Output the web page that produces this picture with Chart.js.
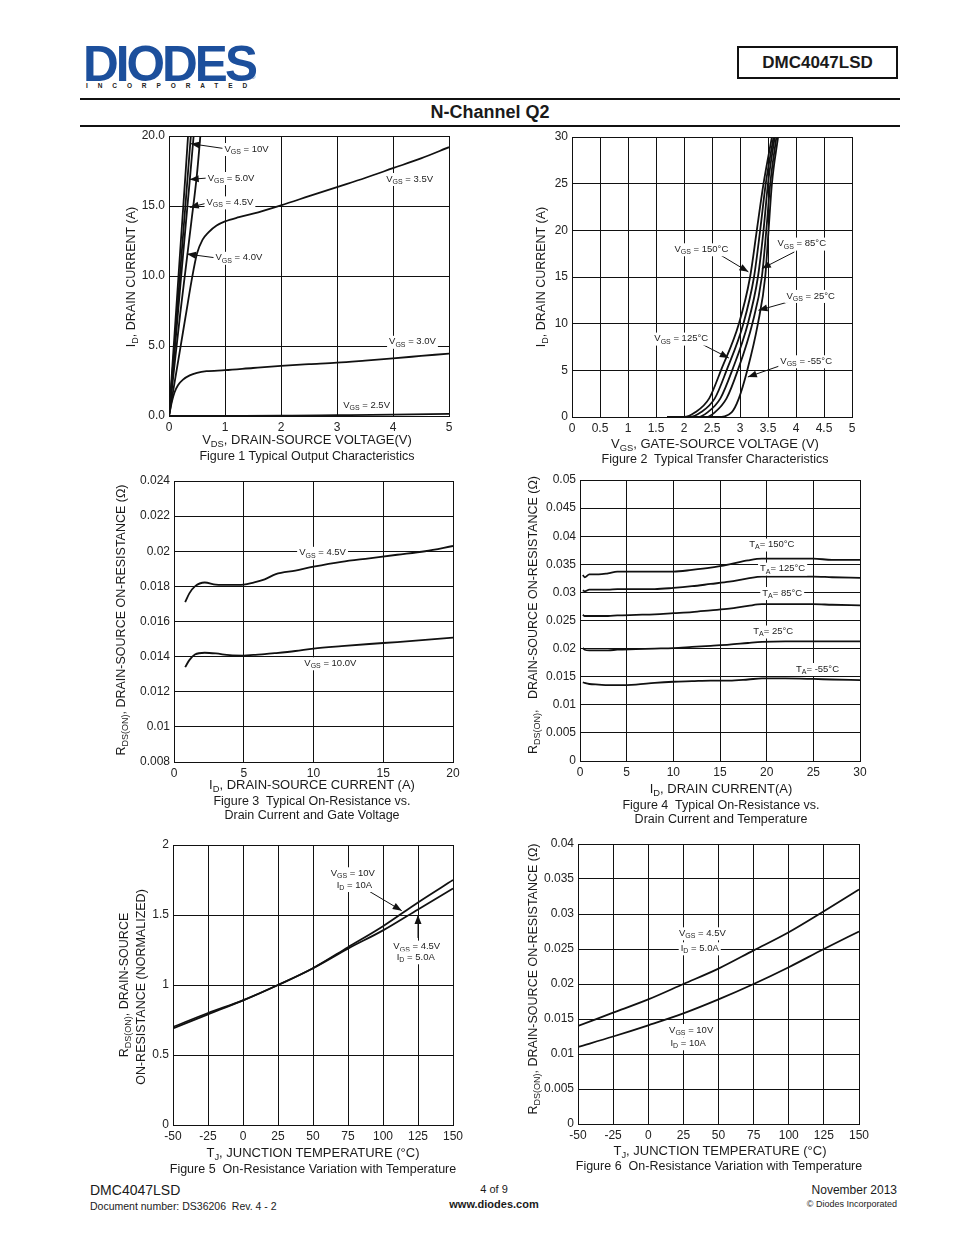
<!DOCTYPE html>
<html>
<head>
<meta charset="utf-8">
<script src="https://cdn.jsdelivr.net/npm/chart.js@4.4.1/dist/chart.umd.min.js"></script>
<style>
  body { margin: 0; background: #fff; font-family: "Liberation Sans", Arial, sans-serif; color: #1a1a1a; }
  #page { position: relative; width: 954px; height: 1235px; overflow: hidden; }
  .t { position: absolute; white-space: nowrap; transform: translate(-50%, -50%); font-size: 12.5px; }
  .yt { position: absolute; white-space: nowrap; transform: translate(-50%, -50%) rotate(-90deg); font-size: 12.5px; }
  sub { font-size: 0.72em; position: relative; top: 0.3em; vertical-align: baseline; line-height: 0; }
  canvas { position: absolute; }
  .rule { position: absolute; left: 80px; width: 820px; height: 2px; background: #111; }
</style>
</head>
<body>
<div id="page">
  <!-- header -->
  <div style="position:absolute;left:83px;top:35px;font-size:50px;font-weight:900;letter-spacing:-3px;color:#1c4f9c;transform:scaleX(0.99);transform-origin:left">DIODES</div>
  <div style="position:absolute;left:86px;top:82px;font-size:6.5px;font-weight:bold;letter-spacing:9.9px;color:#222">INCORPORATED</div>
  <div style="position:absolute;left:251px;top:74px;font-size:6px;color:#1c4f9c">®</div>
  <div style="position:absolute;left:737px;top:46px;width:157px;height:29px;border:2px solid #111;font-size:17px;font-weight:bold;text-align:center;line-height:30px">DMC4047LSD</div>
  <div class="rule" style="top:98px"></div>
  <div class="t" style="left:490px;top:112px;font-size:18px;font-weight:bold">N-Channel Q2</div>
  <div class="rule" style="top:125px"></div>

  <canvas id="c1"></canvas>
  <canvas id="c2"></canvas>
  <canvas id="c3"></canvas>
  <canvas id="c4"></canvas>
  <canvas id="c5"></canvas>
  <canvas id="c6"></canvas>

  <!-- figure 1 -->
  <div class="yt" style="left:131px;top:277px">I<sub>D</sub>, DRAIN CURRENT (A)</div>
  <div class="t" style="left:307px;top:439px;font-size:13px">V<sub>DS</sub>, DRAIN-SOURCE VOLTAGE(V)</div>
  <div class="t" style="left:307px;top:456px">Figure 1 Typical Output Characteristics</div>
  <!-- figure 2 -->
  <div class="yt" style="left:541px;top:277px">I<sub>D</sub>, DRAIN CURRENT (A)</div>
  <div class="t" style="left:715px;top:443px;font-size:13px">V<sub>GS</sub>, GATE-SOURCE VOLTAGE (V)</div>
  <div class="t" style="left:715px;top:459px">Figure 2&nbsp; Typical Transfer Characteristics</div>
  <!-- figure 3 -->
  <div class="yt" style="left:121px;top:620px">R<sub>DS(ON)</sub>, DRAIN-SOURCE ON-RESISTANCE (Ω)</div>
  <div class="t" style="left:312px;top:784px;font-size:13px">I<sub>D</sub>, DRAIN-SOURCE CURRENT (A)</div>
  <div class="t" style="left:312px;top:801px">Figure 3&nbsp; Typical On-Resistance vs.</div>
  <div class="t" style="left:312px;top:815px">Drain Current and Gate Voltage</div>
  <!-- figure 4 -->
  <div class="yt" style="left:533px;top:615px">R<sub>DS(ON)</sub>,&nbsp;&nbsp; DRAIN-SOURCE ON-RESISTANCE (Ω)</div>
  <div class="t" style="left:721px;top:788px;font-size:13px">I<sub>D</sub>, DRAIN CURRENT(A)</div>
  <div class="t" style="left:721px;top:805px">Figure 4&nbsp; Typical On-Resistance vs.</div>
  <div class="t" style="left:721px;top:819px">Drain Current and Temperature</div>
  <!-- figure 5 -->
  <div class="yt" style="left:124px;top:985px">R<sub>DS(ON)</sub>, DRAIN-SOURCE</div>
  <div class="yt" style="left:141px;top:987px">ON-RESISTANCE (NORMALIZED)</div>
  <div class="t" style="left:313px;top:1152px;font-size:13px">T<sub>J</sub>, JUNCTION TEMPERATURE (°C)</div>
  <div class="t" style="left:313px;top:1169px">Figure 5&nbsp; On-Resistance Variation with Temperature</div>
  <!-- figure 6 -->
  <div class="yt" style="left:533px;top:979px">R<sub>DS(ON)</sub>, DRAIN-SOURCE ON-RESISTANCE (Ω)</div>
  <div class="t" style="left:720px;top:1150px;font-size:13px">T<sub>J</sub>, JUNCTION TEMPERATURE (°C)</div>
  <div class="t" style="left:719px;top:1166px">Figure 6&nbsp; On-Resistance Variation with Temperature</div>

  <!-- footer -->
  <div style="position:absolute;left:90px;top:1182px;font-size:14px">DMC4047LSD</div>
  <div style="position:absolute;left:90px;top:1200px;font-size:10.5px">Document number: DS36206&nbsp; Rev. 4 - 2</div>
  <div class="t" style="left:494px;top:1189px;font-size:11px">4 of 9</div>
  <div class="t" style="left:494px;top:1204px;font-size:11px;font-weight:bold">www.diodes.com</div>
  <div style="position:absolute;right:57px;top:1183px;font-size:12px">November 2013</div>
  <div style="position:absolute;right:57px;top:1199px;font-size:9px">© Diodes Incorporated</div>
</div>

<script>
// ---------- Figure 1: output characteristics ----------
const fig1Vds10 = [0, 0.1, 0.2, 0.3, 0.34];
const fig1Id10 = [0, 5.9, 11.8, 17.6, 20];
const fig1Vds50 = [0, 0.1, 0.2, 0.3, 0.39];
const fig1Id50 = [0, 5.1, 10.3, 15.4, 20];
const fig1Vds45 = [0, 0.1, 0.2, 0.3, 0.37, 0.44];
const fig1Id45 = [0, 4.6, 9.2, 13.7, 16.8, 20];
const fig1Vds40 = [0, 0.1, 0.2, 0.3, 0.4, 0.5, 0.56];
const fig1Id40 = [0, 3.7, 7.3, 10.6, 13.9, 17.3, 20];
const fig1Vds35 = [0, 0.1, 0.2, 0.3, 0.4, 0.5, 0.6, 0.7, 0.85, 1, 1.25, 1.5, 2, 2.5, 3, 3.5, 4, 4.5, 5];
const fig1Id35 = [0, 2.4, 4.8, 7.2, 9.6, 11.6, 12.6, 13.1, 13.6, 13.9, 14.2, 14.45, 15.05, 15.7, 16.35, 17.0, 17.7, 18.4, 19.2];
const fig1Vds30 = [0, 0.05, 0.1, 0.16, 0.25, 0.37, 0.5, 0.67, 1, 1.5, 2, 2.5, 3, 3.5, 4, 4.5, 5];
const fig1Id30 = [0, 1.0, 1.7, 2.2, 2.6, 2.9, 3.08, 3.2, 3.27, 3.43, 3.58, 3.7, 3.81, 3.96, 4.12, 4.29, 4.46];
const fig1Vds25 = [0, 1, 2, 2.2, 3, 4, 5];
const fig1Id25 = [0, 0.01, 0.02, 0.03, 0.06, 0.1, 0.15];

// ---------- Figure 2: transfer characteristics ----------
const fig2Id = [0, 0, 0.5, 2, 5, 10, 15, 20, 25, 30];
const fig2V150 = [1.7, 2.0, 2.2, 2.45, 2.66, 2.98, 3.18, 3.3, 3.42, 3.57];
const fig2V125 = [1.7, 2.1, 2.3, 2.55, 2.76, 3.06, 3.25, 3.36, 3.46, 3.6];
const fig2V85 = [1.7, 2.25, 2.42, 2.65, 2.86, 3.14, 3.32, 3.42, 3.5, 3.62];
const fig2V25 = [1.7, 2.4, 2.55, 2.76, 2.96, 3.22, 3.39, 3.47, 3.54, 3.65];
const fig2Vm55 = [1.7, 2.6, 2.85, 2.98, 3.13, 3.32, 3.45, 3.51, 3.57, 3.68];

// ---------- Figure 3: RDS(on) vs ID and VGS ----------
const fig3Id = [0.8, 1.1, 1.5, 2.2, 3.0, 4.0, 5.0, 5.7, 6.5, 7.3, 8.7, 10, 12, 14, 16, 18, 20];
const fig3R45 = [0.0171, 0.0176, 0.0180, 0.01822, 0.0181, 0.01808, 0.0181, 0.01822, 0.0184, 0.0187, 0.0189, 0.01912, 0.0194, 0.0196, 0.0198, 0.0200, 0.0203];
const fig3R10 = [0.0134, 0.0138, 0.01412, 0.01422, 0.01418, 0.01408, 0.01406, 0.0141, 0.01414, 0.0142, 0.01432, 0.01446, 0.0146, 0.01472, 0.01483, 0.01495, 0.01508];

// ---------- Figure 4: RDS(on) vs ID and temperature ----------
const fig4Id = [0.3, 0.5, 1, 2, 3, 4, 6, 8, 10, 12, 14, 16, 18, 19.5, 22, 25, 27, 30];
const fig4R150 = [0.0331, 0.0327, 0.0332, 0.0332, 0.0334, 0.0337, 0.0337, 0.0337, 0.0337, 0.034, 0.0344, 0.035, 0.0357, 0.036, 0.036, 0.036, 0.0358, 0.0358];
const fig4R125 = [0.0304, 0.0302, 0.0305, 0.0305, 0.0305, 0.0306, 0.0306, 0.0306, 0.0308, 0.0311, 0.0315, 0.0319, 0.0325, 0.0328, 0.0328, 0.0328, 0.0327, 0.0326];
const fig4R85 = [0.026, 0.0258, 0.0258, 0.0258, 0.0258, 0.0259, 0.026, 0.0261, 0.0263, 0.0265, 0.0268, 0.0271, 0.0276, 0.0279, 0.0279, 0.0279, 0.0278, 0.0277];
const fig4R25 = [0.0201, 0.0198, 0.0197, 0.0197, 0.0197, 0.0198, 0.0199, 0.02, 0.0201, 0.0203, 0.0205, 0.0207, 0.021, 0.0212, 0.0213, 0.0213, 0.0213, 0.0213];
const fig4Rm55 = [0.014, 0.0139, 0.0137, 0.0136, 0.0135, 0.0135, 0.0136, 0.0139, 0.0141, 0.0142, 0.0143, 0.0143, 0.0145, 0.0147, 0.0147, 0.0146, 0.0145, 0.0144];

// ---------- Figure 5 / 6: temperature variation ----------
const tempC = [-50, -25, 0, 25, 50, 75, 100, 125, 150];
const fig5Norm10 = [0.70, 0.80, 0.89, 1.0, 1.12, 1.27, 1.42, 1.59, 1.75];
const fig5Norm45 = [0.69, 0.79, 0.89, 1.0, 1.12, 1.26, 1.39, 1.54, 1.69];
const fig6R45 = [0.0140, 0.0159, 0.0178, 0.0200, 0.0222, 0.0248, 0.0274, 0.0304, 0.0335];
const fig6R10 = [0.0110, 0.0125, 0.0141, 0.0158, 0.0178, 0.0200, 0.0224, 0.0250, 0.0275];

const FONT = '"Liberation Sans", Arial, sans-serif';
const PADL = 60, PADR = 24, PADT = 12, PADB = 24;

const zip = (xs, ys) => xs.map((v, i) => ({ x: v, y: ys[i] }));
const trim = (d) => (v) => String(+v.toFixed(d));

function curve(xs, ys) {
  return {
    data: zip(xs, ys),
    borderColor: "#111",
    borderWidth: 1.8,
    pointRadius: 0,
    fill: false,
    cubicInterpolationMode: "monotone",
  };
}

function axis(min, max, step, fmt, isX) {
  return {
    type: "linear",
    min, max,
    ticks: {
      stepSize: step, autoSkip: false, maxRotation: 0, padding: 4,
      color: "#222", font: { family: FONT, size: 12 }, callback: fmt,
    },
    grid: { color: "#111", lineWidth: 1, drawTicks: false },
    border: { color: "#111", width: 1 },
    afterFit: (s) => { if (isX) s.height = PADB; else s.width = PADL; },
  };
}

// text with V_{GS} style subscripts, left edge at px, vertical middle at py
function drawLabel(ctx, px, py, str) {
  const parts = str.split(/(_\{[^}]*\})/).filter(Boolean)
    .map((s) => s.startsWith("_{") ? { t: s.slice(2, -1), sub: true } : { t: s, sub: false });
  const big = "9.5px " + FONT, small = "7px " + FONT;
  let w = 0;
  parts.forEach((p) => { ctx.font = p.sub ? small : big; p.w = ctx.measureText(p.t).width; w += p.w; });
  ctx.fillStyle = "#fff";
  ctx.fillRect(px - 2, py - 6, w + 4, 13);
  ctx.fillStyle = "#222";
  ctx.textBaseline = "middle";
  let cx = px;
  parts.forEach((p) => {
    ctx.font = p.sub ? small : big;
    ctx.fillText(p.t, cx, p.sub ? py + 3 : py);
    cx += p.w;
  });
}

function drawArrow(ctx, x0, y0, x1, y1) {
  const a = Math.atan2(y1 - y0, x1 - x0);
  ctx.strokeStyle = "#111";
  ctx.lineWidth = 1;
  ctx.beginPath();
  ctx.moveTo(x0, y0);
  ctx.lineTo(x1, y1);
  ctx.stroke();
  ctx.fillStyle = "#111";
  ctx.beginPath();
  ctx.moveTo(x1, y1);
  ctx.lineTo(x1 - 9 * Math.cos(a) + 3.5 * Math.sin(a), y1 - 9 * Math.sin(a) - 3.5 * Math.cos(a));
  ctx.lineTo(x1 - 9 * Math.cos(a) - 3.5 * Math.sin(a), y1 - 9 * Math.sin(a) + 3.5 * Math.cos(a));
  ctx.closePath();
  ctx.fill();
}

const notesPlugin = {
  id: "notes",
  afterDatasetsDraw(chart, args, opts) {
    const { ctx, scales: { x, y } } = chart;
    const items = opts.items || [];
    ctx.save();
    items.forEach((n) => {
      if (n.tip) drawArrow(ctx, x.getPixelForValue(n.from[0]), y.getPixelForValue(n.from[1]),
        x.getPixelForValue(n.tip[0]), y.getPixelForValue(n.tip[1]));
    });
    items.forEach((n) => {
      if (n.text) drawLabel(ctx, x.getPixelForValue(n.at[0]), y.getPixelForValue(n.at[1]), n.text);
    });
    ctx.restore();
  },
};

function makeChart(id, box, datasets, xAx, yAx, notes) {
  const cv = document.getElementById(id);
  cv.width = box.w + PADL + PADR;
  cv.height = box.h + PADT + PADB;
  cv.style.left = (box.left - PADL) + "px";
  cv.style.top = (box.top - PADT) + "px";
  return new Chart(cv, {
    type: "line",
    data: { datasets },
    options: {
      responsive: false,
      animation: false,
      events: [],
      layout: { padding: { left: 0, right: PADR, top: PADT, bottom: 0 } },
      plugins: { legend: { display: false }, tooltip: { enabled: false }, notes: { items: notes } },
      scales: { x: xAx, y: yAx },
    },
    plugins: [notesPlugin],
  });
}

makeChart("c1", { left: 169, top: 136, w: 280, h: 280 },
  [curve(fig1Vds10, fig1Id10), curve(fig1Vds50, fig1Id50), curve(fig1Vds45, fig1Id45),
   curve(fig1Vds40, fig1Id40), curve(fig1Vds35, fig1Id35), curve(fig1Vds30, fig1Id30),
   curve(fig1Vds25, fig1Id25)],
  axis(0, 5, 1, trim(0), true), axis(0, 20, 5, (v) => v.toFixed(1), false),
  [
    { text: "V_{GS} = 10V", at: [0.99, 19.07], from: [0.99, 19.1], tip: [0.39, 19.45] },
    { text: "V_{GS} = 5.0V", at: [0.69, 17.0], from: [0.69, 17.0], tip: [0.37, 16.9] },
    { text: "V_{GS} = 4.5V", at: [0.67, 15.26], from: [0.67, 15.2], tip: [0.37, 14.9] },
    { text: "V_{GS} = 4.0V", at: [0.83, 11.3], from: [0.83, 11.3], tip: [0.32, 11.57] },
    { text: "V_{GS} = 3.5V", at: [3.88, 16.93] },
    { text: "V_{GS} = 3.0V", at: [3.93, 5.3] },
    { text: "V_{GS} = 2.5V", at: [3.11, 0.76] },
  ]);

makeChart("c2", { left: 572, top: 137, w: 280, h: 280 },
  [curve(fig2V150, fig2Id), curve(fig2V125, fig2Id), curve(fig2V85, fig2Id),
   curve(fig2V25, fig2Id), curve(fig2Vm55, fig2Id)],
  axis(0, 5, 0.5, trim(1), true), axis(0, 30, 5, trim(0), false),
  [
    { text: "V_{GS} = 150°C", at: [1.83, 17.97], from: [2.61, 17.5], tip: [3.15, 15.55] },
    { text: "V_{GS} = 85°C", at: [3.67, 18.58], from: [3.97, 17.68], tip: [3.39, 15.9] },
    { text: "V_{GS} = 25°C", at: [3.83, 12.97], from: [3.86, 12.32], tip: [3.33, 11.43] },
    { text: "V_{GS} = 125°C", at: [1.47, 8.4], from: [2.3, 7.86], tip: [2.8, 6.32] },
    { text: "V_{GS} = -55°C", at: [3.72, 5.97], from: [3.74, 5.54], tip: [3.14, 4.29] },
  ]);

makeChart("c3", { left: 174, top: 481, w: 279, h: 281 },
  [curve(fig3Id, fig3R45), curve(fig3Id, fig3R10)],
  axis(0, 20, 5, trim(0), true), axis(0.008, 0.024, 0.002, trim(3), false),
  [
    { text: "V_{GS} = 4.5V", at: [8.97, 0.01991] },
    { text: "V_{GS} = 10.0V", at: [9.34, 0.01362] },
  ]);

makeChart("c4", { left: 580, top: 480, w: 280, h: 281 },
  [curve(fig4Id, fig4R150), curve(fig4Id, fig4R125), curve(fig4Id, fig4R85),
   curve(fig4Id, fig4R25), curve(fig4Id, fig4Rm55)],
  axis(0, 30, 5, trim(0), true), axis(0, 0.05, 0.005, trim(3), false),
  [
    { text: "T_{A}= 150°C", at: [18.14, 0.03852] },
    { text: "T_{A}= 125°C", at: [19.29, 0.03423] },
    { text: "T_{A}= 85°C", at: [19.53, 0.02989] },
    { text: "T_{A}= 25°C", at: [18.57, 0.02304] },
    { text: "T_{A}= -55°C", at: [23.14, 0.01637] },
  ]);

makeChart("c5", { left: 173, top: 845, w: 280, h: 280 },
  [curve(tempC, fig5Norm10), curve(tempC, fig5Norm45)],
  axis(-50, 150, 25, trim(0), true), axis(0, 2, 0.5, trim(1), false),
  [
    { from: [90.7, 1.666], tip: [113.4, 1.531] },
    { from: [125, 1.336], tip: [125, 1.5] },
    { text: "V_{GS} = 10V", at: [62.6, 1.798] },
    { text: "I_{D} = 10A", at: [66.9, 1.714] },
    { text: "V_{GS} = 4.5V", at: [107.4, 1.274] },
    { text: "I_{D} = 5.0A", at: [109.8, 1.198] },
  ]);

makeChart("c6", { left: 578, top: 844, w: 281, h: 280 },
  [curve(tempC, fig6R45), curve(tempC, fig6R10)],
  axis(-50, 150, 25, trim(0), true), axis(0, 0.04, 0.005, trim(3), false),
  [
    { text: "V_{GS} = 4.5V", at: [21.9, 0.02724] },
    { text: "I_{D} = 5.0A", at: [23.1, 0.0251] },
    { text: "V_{GS} = 10V", at: [14.8, 0.01343] },
    { text: "I_{D} = 10A", at: [15.8, 0.01153] },
  ]);
</script>
</body>
</html>
